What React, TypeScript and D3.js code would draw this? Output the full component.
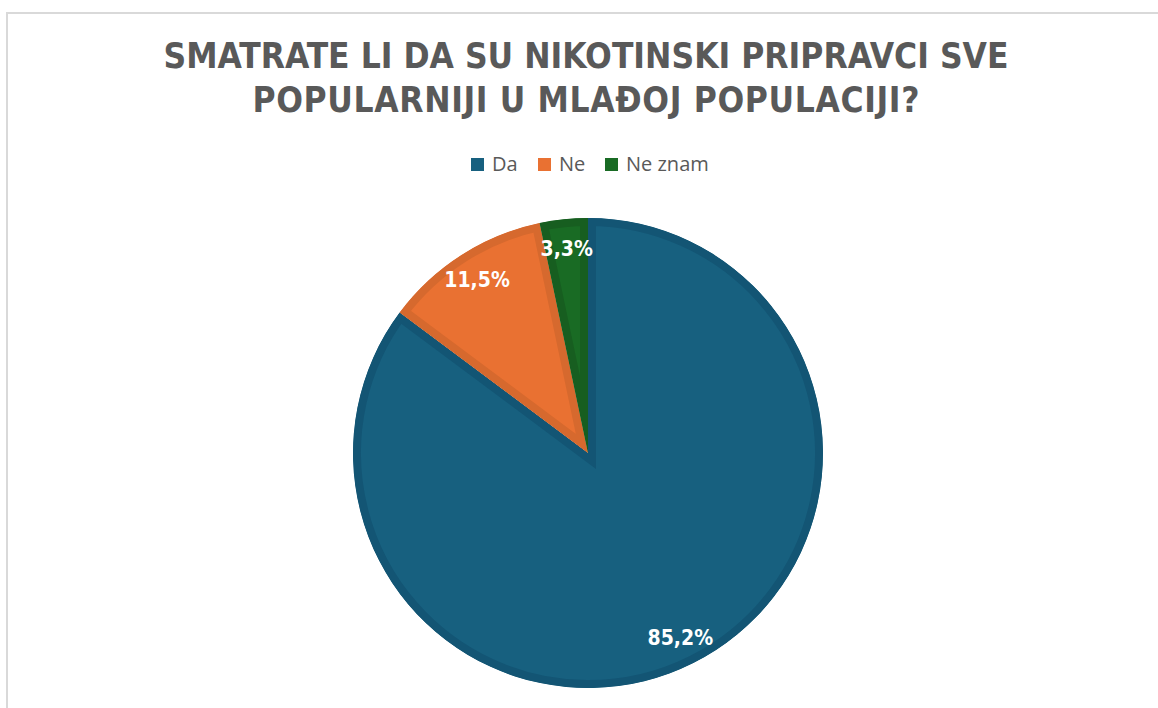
import React from 'react';
import * as d3 from 'd3';

const categories = ['Da', 'Ne', 'Ne znam'];
const values = [85.2, 11.5, 3.3];
const labels = ['85,2%', '11,5%', '3,3%'];
const fills = ['#17607f', '#e97132', '#196b24'];
const edges = ['#135574', '#d6692e', '#175e20'];
const titleLines = ['SMATRATE LI DA SU NIKOTINSKI PRIPRAVCI SVE', 'POPULARNIJI U MLAĐOJ POPULACIJI?'];

const W = 1158;
const H = 708;
const cx = 588;
const cy = 453;
const radius = 235;

const App: React.FC = () => {
  const pie = d3.pie<number>().sort(null).value(d => d);
  const slices = pie(values);
  const arc = d3.arc<d3.PieArcDatum<number>>().innerRadius(0).outerRadius(radius);
  const labelArc = d3.arc<d3.PieArcDatum<number>>().innerRadius(206).outerRadius(206);

  // legend layout
  const legendX = [471, 538, 605];

  return (
    <svg width={W} height={H} style={{ position: 'absolute', left: 0, top: 0, background: '#fff' }}>
      <rect x={7} y={13} width={W + 20} height={H + 20} fill="#fff" stroke="#d9d9d9" strokeWidth={2} />

      {titleLines.map((t, i) => (
        <text
          key={t}
          x={586}
          y={68 + i * 44}
          textAnchor="middle"
          fill="#595959"
          fontFamily="DejaVu Sans Condensed, DejaVu Sans, sans-serif"
          fontWeight="bold"
          fontSize={35}
          textLength={i === 0 ? 845 : 667}
          lengthAdjust="spacing"
        >
          {t}
        </text>
      ))}

      {categories.map((c, i) => (
        <g key={c} transform={`translate(${legendX[i]},158)`}>
          <rect width={13} height={13} fill={fills[i]} />
          <text x={21} y={13} fill="#595959" fontFamily="Open Sans, sans-serif" fontSize={20}>
            {c}
          </text>
        </g>
      ))}

      <defs>
        {slices.map((s, i) => (
          <clipPath key={i} id={`clip-${i}`}>
            <path d={arc(s) || ''} />
          </clipPath>
        ))}
      </defs>

      <g transform={`translate(${cx},${cy})`}>
        {slices.map((s, i) => (
          <path
            key={categories[i]}
            d={arc(s) || ''}
            fill={fills[i]}
            stroke={edges[i]}
            strokeWidth={16}
            strokeLinejoin="miter"
            clipPath={`url(#clip-${i})`}
          />
        ))}
        {slices.map((s, i) => {
          const [lx, ly] = labelArc.centroid(s);
          return (
            <text
              key={labels[i]}
              x={lx}
              y={ly}
              dy="0.36em"
              textAnchor="middle"
              fill="#fff"
              fontFamily="DejaVu Sans Condensed, DejaVu Sans, sans-serif"
              fontWeight="bold"
              fontSize={21}
            >
              {labels[i]}
            </text>
          );
        })}
      </g>
    </svg>
  );
};

export default App;
